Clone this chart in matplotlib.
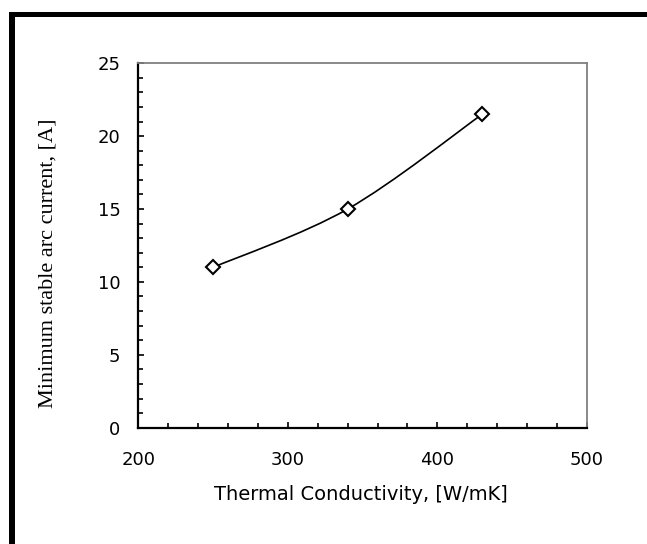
import matplotlib
matplotlib.use("Agg")
import matplotlib.pyplot as plt
from matplotlib.path import Path
from matplotlib.patches import PathPatch, Rectangle
from matplotlib.ticker import MultipleLocator

# data
conductivity = [250, 340, 430]
min_current = [11.0, 15.0, 21.5]


def smooth_path(xs, ys):
    # Catmull-Rom style bezier through the points (like Excel "smoothed line")
    pts = list(zip(xs, ys))
    ext = [pts[0]] + pts + [pts[-1]]
    verts = [pts[0]]
    codes = [Path.MOVETO]
    for i in range(1, len(ext) - 2):
        p0, p1, p2, p3 = ext[i - 1], ext[i], ext[i + 1], ext[i + 2]
        c1 = (p1[0] + (p2[0] - p0[0]) / 6, p1[1] + (p2[1] - p0[1]) / 6)
        c2 = (p2[0] - (p3[0] - p1[0]) / 6, p2[1] - (p3[1] - p1[1]) / 6)
        verts += [c1, c2, p2]
        codes += [Path.CURVE4] * 3
    return Path(verts, codes)


fig = plt.figure(figsize=(6.47, 5.44), dpi=100)
ax = fig.add_axes([0.214, 0.2138, 0.693, 0.670])

ax.add_patch(PathPatch(smooth_path(conductivity, min_current), facecolor="none",
                       edgecolor="black", lw=1.2, zorder=2))
ax.plot(conductivity, min_current, linestyle="none", marker="D", markersize=7.5,
        markerfacecolor="white", markeredgecolor="black", markeredgewidth=1.5, zorder=3)

ax.set_xlim(200, 500)
ax.set_ylim(0, 25)
ax.xaxis.set_major_locator(MultipleLocator(100))
ax.xaxis.set_minor_locator(MultipleLocator(20))
ax.yaxis.set_major_locator(MultipleLocator(5))
ax.yaxis.set_minor_locator(MultipleLocator(1))
ax.tick_params(which="both", direction="in", top=False, right=False, width=1.2)
ax.tick_params(which="major", length=4, labelsize=13, pad=13)
ax.tick_params(which="minor", length=3.5)
ax.tick_params(axis="x", which="major", pad=17)

for lbl in ax.get_xticklabels() + ax.get_yticklabels():
    lbl.set_family("DejaVu Sans")

for side in ["left", "bottom"]:
    ax.spines[side].set_color("black")
    ax.spines[side].set_linewidth(1.6)
for side in ["top", "right"]:
    ax.spines[side].set_color("#808080")
    ax.spines[side].set_linewidth(1.3)

ax.set_xlabel("Thermal Conductivity, [W/mK]", fontsize=14, family="DejaVu Sans")
ax.xaxis.set_label_coords(0.497, -0.158)
ax.set_ylabel("Minimum stable arc current, [A]", fontsize=16, family="Liberation Serif")
ax.yaxis.set_label_coords(-0.18, 0.452)

# thick frame around the picture (top and left only, cropped)
fig.add_artist(Rectangle((9 / 647, 0), 6 / 647, 1 - 12 / 544, transform=fig.transFigure,
                         facecolor="black", edgecolor="none"))
fig.add_artist(Rectangle((9 / 647, 1 - 17 / 544), 1, 5 / 544, transform=fig.transFigure,
                         facecolor="black", edgecolor="none"))

fig.savefig("out.png", dpi=100)
